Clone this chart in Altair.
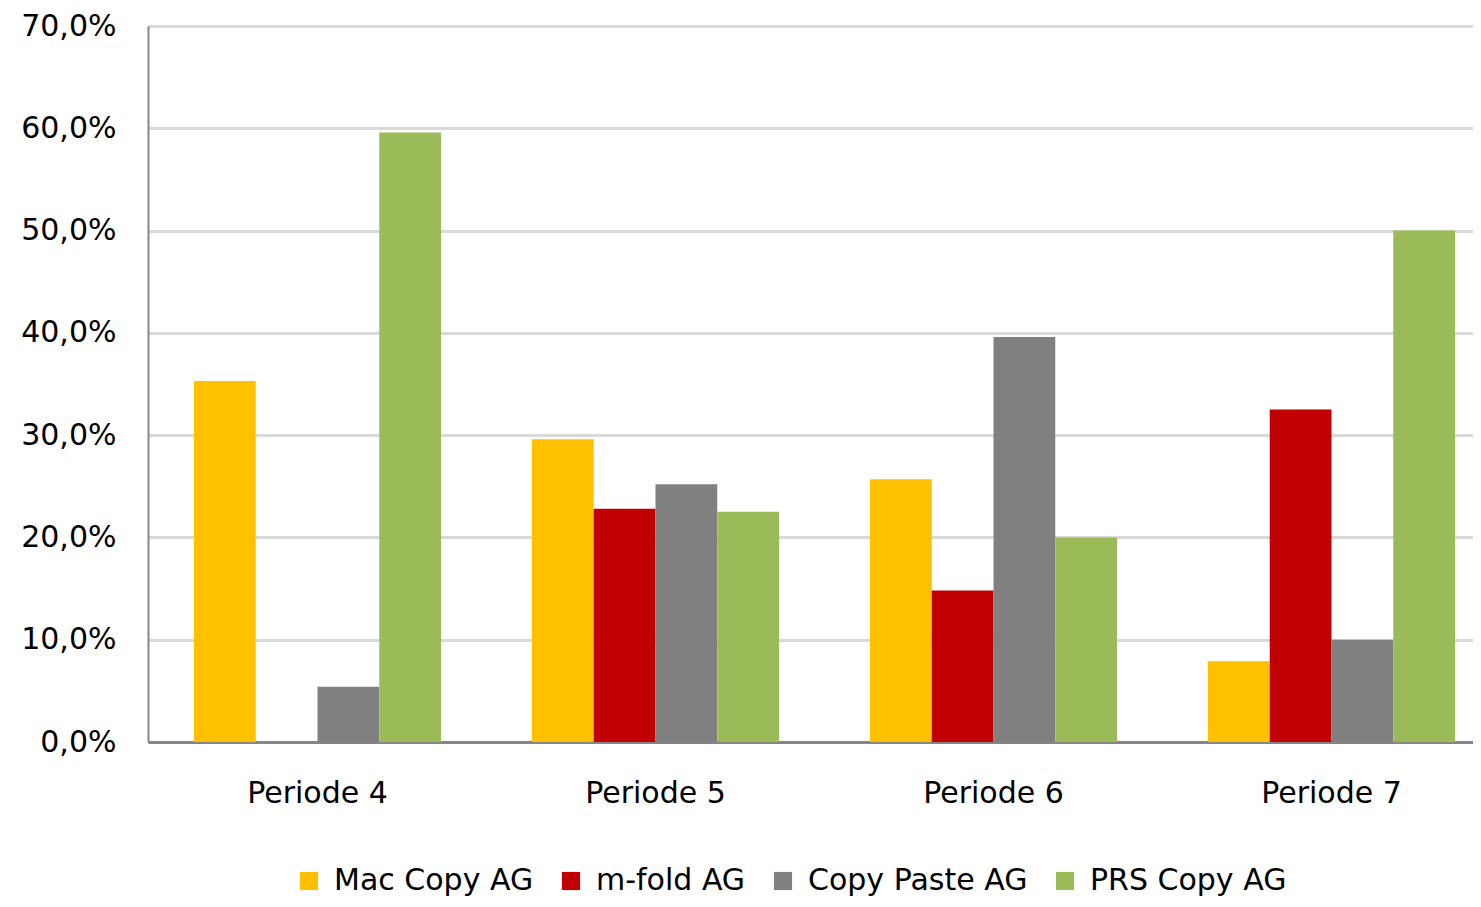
import altair as alt
import pandas as pd

periods = ["Periode 4", "Periode 5", "Periode 6", "Periode 7"]
companies = ["Mac Copy AG", "m-fold AG", "Copy Paste AG", "PRS Copy AG"]
colors = ["#FFC000", "#C00000", "#808080", "#9BBB59"]

mac_copy = [35.3, 29.6, 25.7, 7.9]
m_fold = [0.0, 22.8, 14.8, 32.5]
copy_paste = [5.4, 25.2, 39.6, 10.0]
prs_copy = [59.6, 22.5, 20.0, 50.0]

series = [mac_copy, m_fold, copy_paste, prs_copy]
rows = []
for comp, vals in zip(companies, series):
    for p, v in zip(periods, vals):
        rows.append({"Periode": p, "Firma": comp, "Wert": v})
df = pd.DataFrame(rows)

FONT = "DejaVu Sans"
FS = 30

chart = alt.Chart(df).mark_bar().encode(
    x=alt.X("Periode:N", sort=periods, title=None,
            scale=alt.Scale(paddingInner=0.269, paddingOuter=0.136, range=[0, 1353]),
            axis=alt.Axis(labelAngle=0, labelFontSize=FS, labelFont=FONT, labelColor="#000000",
                          labelPadding=36, ticks=False, domainColor="#868686", domainWidth=3)),
    xOffset=alt.XOffset("Firma:N", sort=companies, scale=alt.Scale(paddingInner=0, paddingOuter=0)),
    y=alt.Y("Wert:Q", title=None,
            scale=alt.Scale(domain=[0, 70], nice=False),
            axis=alt.Axis(values=[0, 10, 20, 30, 40, 50, 60, 70],
                          labelExpr="replace(format(datum.value, '.1f'), '.', ',') + '%'",
                          labelFontSize=FS, labelFont=FONT, labelColor="#000000",
                          labelPadding=32, ticks=False, domainColor="#868686", domainWidth=2,
                          grid=True, gridColor="#D9D9D9", gridWidth=3)),
    color=alt.Color("Firma:N", sort=companies,
                    scale=alt.Scale(domain=companies, range=colors),
                    legend=alt.Legend(title=None, orient="none", direction="horizontal",
                                      legendX=146, legendY=840, columns=4,
                                      symbolType="square", symbolSize=330, symbolStrokeWidth=0,
                                      labelFontSize=FS, labelFont=FONT, labelColor="#000000",
                                      labelLimit=500, columnPadding=22, symbolOffset=0,
                                      labelOffset=10)),
).properties(
    width=1325, height=716,
    autosize=alt.AutoSizeParams(type="none"),
    padding={"left": 140, "top": 18, "right": 0, "bottom": 157},
).configure_view(stroke=None).configure(background="#FFFFFF")

chart.save("out.html", embed_options={"renderer": "svg", "actions": False})
